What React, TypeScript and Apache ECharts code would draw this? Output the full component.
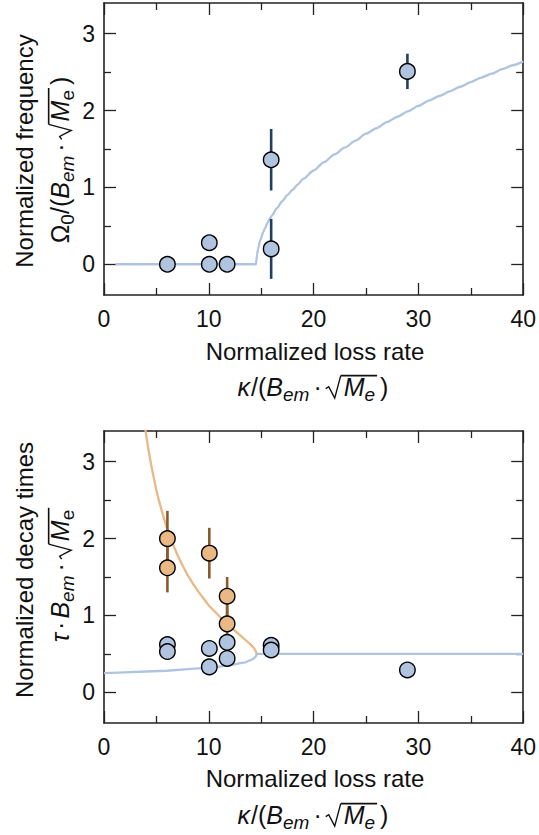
import React, { useEffect, useRef } from "react";
import * as echarts from "echarts";

// ---------- data ----------
const xTicks = [0, 10, 20, 30, 40];
const yMajorTicks = [0, 1, 2, 3];
const yMinorTicks = [0.5, 1.5, 2.5];

// top panel: normalized frequency
const freqKappa = [6.05, 10.05, 10.05, 11.75, 15.95, 15.95, 28.95];
const freqOmega = [0, 0, 0.28, 0, 1.36, 0.2, 2.51];
const freqErr = [0, 0, 0, 0, 0.4, 0.39, 0.23];

const freqCurveKappa = [1.1, 14.5, 14.55, 14.6, 14.7, 14.9, 15.2, 15.4, 15.6, 15.8, 16, 16.5, 17, 17.5, 18, 18.5, 19, 20, 21, 22, 23, 24, 25, 26, 27, 28, 29, 30, 31, 32, 33, 34, 35, 36, 37, 38, 39, 40];
const freqCurveOmega = [0, 0, 0.06, 0.12, 0.2, 0.31, 0.42, 0.48, 0.54, 0.59, 0.63, 0.73, 0.82, 0.9, 0.97, 1.04, 1.11, 1.22, 1.33, 1.43, 1.52, 1.61, 1.7, 1.77, 1.85, 1.92, 1.99, 2.06, 2.13, 2.19, 2.25, 2.31, 2.37, 2.43, 2.48, 2.54, 2.59, 2.64];

// bottom panel: normalized decay times
const blueKappa = [6.05, 6.05, 10.05, 10.05, 11.75, 11.75, 15.95, 15.95, 28.95];
const blueTau = [0.62, 0.53, 0.57, 0.33, 0.65, 0.44, 0.61, 0.55, 0.29];

const orangeKappa = [6.05, 6.05, 10.05, 11.75, 11.75];
const orangeTau = [2.0, 1.62, 1.81, 1.25, 0.89];
const orangeErr = [0.36, 0.32, 0.33, 0.25, 0.24];

const lowCurveKappa = [0, 2, 4, 6, 8, 10, 11, 12, 13, 13.5, 14, 14.3, 14.45, 14.53, 14.55, 40];
const lowCurveTau = [0.25, 0.26, 0.27, 0.28, 0.3, 0.32, 0.335, 0.35, 0.38, 0.39, 0.42, 0.44, 0.46, 0.48, 0.5, 0.5];

const upCurveKappa = [3.6, 3.8, 4, 4.25, 4.5, 4.75, 5, 5.25, 5.5, 5.75, 6, 6.5, 7, 7.5, 8, 8.5, 9, 9.5, 10, 10.5, 11, 11.5, 12, 12.5, 13, 13.5, 13.75, 14, 14.3, 14.45, 14.53, 14.55];
const upCurveTau = [3.77, 3.56, 3.37, 3.15, 2.96, 2.79, 2.63, 2.49, 2.37, 2.25, 2.14, 1.95, 1.79, 1.65, 1.52, 1.41, 1.31, 1.22, 1.13, 1.06, 0.99, 0.92, 0.86, 0.8, 0.74, 0.68, 0.65, 0.62, 0.575, 0.545, 0.52, 0.5];

// ---------- styles ----------
const FONT = '"Liberation Sans", Arial, Helvetica, sans-serif';
const FS = 24;
const MF = 25;
const MSUB = 19;
const TXT = "#111";
const FRAME = "#222";
const BLUE = "#b0c4e0";
const NAVY = "#223f60";
const ORANGE = "#e9b884";
const BROWN = "#8c5a2c";

const GRID_LEFT = 104;
const GRID_W = 423;
const GRID_H = 292;
const TOP1 = 3;
const TOP2 = 431;

type Seg = { t?: string; it?: boolean; sub?: boolean; gap?: number; rad?: boolean; ovEnd?: boolean };

function buildMath(segs: Seg[], F: number, Fs: number) {
  const canvas = document.createElement("canvas");
  const ctx = canvas.getContext("2d") as CanvasRenderingContext2D;
  const k = 0.3465;
  const base = k * F;
  const ovY = base - 20;
  let x = 0;
  let ovStart: number | null = null;
  let ovEnd: number | null = null;
  const children: any[] = [];
  for (const s of segs) {
    if (s.gap) {
      x += s.gap;
      continue;
    }
    if (s.rad) {
      children.push({
        type: "polyline",
        shape: { points: [[x, base - 7], [x + 3, base - 9], [x + 9, base + 2.5], [x + 15, ovY]] },
        style: { stroke: TXT, lineWidth: 1.4, fill: null },
      });
      ovStart = x + 15;
      x += 18;
      continue;
    }
    const size = s.sub ? Fs : F;
    const font = `${s.it ? "italic " : ""}${size}px ${FONT}`;
    ctx.font = font;
    const w = ctx.measureText(s.t || "").width;
    const bl = s.sub ? base + 5 : base;
    const mid = bl - k * size;
    children.push({
      type: "text",
      x,
      y: mid,
      style: {
        text: s.t,
        font,
        fill: TXT,
        textAlign: "left",
        align: "left",
        textVerticalAlign: "middle",
        verticalAlign: "middle",
      },
    });
    x += w;
    if (s.ovEnd) ovEnd = x + 2;
  }
  if (ovStart !== null && ovEnd !== null) {
    children.push({
      type: "line",
      shape: { x1: ovStart, y1: ovY, x2: ovEnd, y2: ovY },
      style: { stroke: TXT, lineWidth: 1.6 },
    });
  }
  return { children, width: x };
}

function mathLabel(segs: Seg[], cx: number, cy: number, rotate: boolean) {
  const m = buildMath(segs, MF, MSUB);
  return {
    type: "group",
    x: cx,
    y: cy,
    rotation: rotate ? Math.PI / 2 : 0,
    children: [{ type: "group", x: -m.width / 2, y: 0, children: m.children }],
  };
}

function plainLabel(text: string, cx: number, cy: number, rotate: boolean) {
  return {
    type: "text",
    x: cx,
    y: cy,
    rotation: rotate ? Math.PI / 2 : 0,
    style: {
      text,
      font: `${FS}px ${FONT}`,
      fill: TXT,
      textAlign: "center",
      align: "center",
      textVerticalAlign: "middle",
      verticalAlign: "middle",
    },
  };
}

const DOT = "\u2022";

const kappaSegs: Seg[] = [
  { t: "κ", it: true },
  { gap: 1 },
  { t: "/(" },
  { t: "B", it: true },
  { t: "em", it: true, sub: true },
  { gap: 4 },
  { t: "·" },
  { gap: 4 },
  { rad: true },
  { t: "M", it: true },
  { t: "e", it: true, sub: true, ovEnd: true },
  { gap: 5 },
  { t: ")" },
];

const omegaSegs: Seg[] = [
  { t: "Ω" },
  { t: "0", sub: true },
  { t: "/(" },
  { t: "B", it: true },
  { t: "em", it: true, sub: true },
  { gap: 4 },
  { t: "·" },
  { gap: 4 },
  { rad: true },
  { t: "M", it: true },
  { t: "e", sub: true, ovEnd: true },
  { gap: 5 },
  { t: ")" },
];

const tauSegs: Seg[] = [
  { t: "τ", it: true },
  { gap: 3 },
  { t: "·" },
  { gap: 3 },
  { t: "B", it: true },
  { t: "em", it: true, sub: true },
  { gap: 4 },
  { t: "·" },
  { gap: 4 },
  { rad: true },
  { t: "M", it: true },
  { t: "e", sub: true, ovEnd: true },
];

function xAxes(gridIndex: number) {
  const common = {
    gridIndex,
    type: "value",
    min: 0,
    max: 40,
    interval: 10,
    splitLine: { show: false },
    axisLine: { show: true, onZero: false, lineStyle: { color: FRAME, width: 1.6 } },
    axisTick: { show: true, inside: true, length: 12, lineStyle: { color: FRAME, width: 1.3 } },
    minorTick: { show: true, splitNumber: 2, length: 7, lineStyle: { color: FRAME, width: 1.3 } },
    minorSplitLine: { show: false },
  };
  return [
    {
      ...common,
      position: "bottom",
      axisLabel: {
        show: true,
        fontSize: FS - 1,
        fontFamily: FONT,
        color: TXT,
        margin: 12,
        customValues: xTicks,
      },
    },
    { ...common, position: "top", axisLabel: { show: false } },
  ];
}

function yAxes(gridIndex: number) {
  const common = {
    gridIndex,
    type: "value",
    min: -0.4,
    max: 3.4,
    splitLine: { show: false },
  };
  const major = (pos: string, labels: boolean) => ({
    ...common,
    position: pos,
    axisLine: { show: true, onZero: false, lineStyle: { color: FRAME, width: 1.6 } },
    axisTick: { show: true, inside: true, length: 12, customValues: yMajorTicks, lineStyle: { color: FRAME, width: 1.3 } },
    axisLabel: labels
      ? { show: true, fontSize: FS - 1, fontFamily: FONT, color: TXT, margin: 9, customValues: yMajorTicks }
      : { show: false },
  });
  const minor = (pos: string) => ({
    ...common,
    position: pos,
    axisLine: { show: false, onZero: false },
    axisTick: { show: true, inside: true, length: 7, customValues: yMinorTicks, lineStyle: { color: FRAME, width: 1.3 } },
    axisLabel: { show: false },
  });
  return [major("left", true), minor("left"), major("right", false), minor("right")];
}

function errorBarSeries(xIdx: number, yIdx: number, data: number[][], color: string) {
  return {
    type: "custom",
    xAxisIndex: xIdx,
    yAxisIndex: yIdx,
    z: 2,
    encode: { x: 0, y: [1, 2] },
    data,
    renderItem: (params: any, api: any) => {
      const p1 = api.coord([api.value(0), api.value(1)]);
      const p2 = api.coord([api.value(0), api.value(2)]);
      return {
        type: "line",
        shape: { x1: p1[0], y1: p1[1], x2: p2[0], y2: p2[1] },
        style: { stroke: color, lineWidth: 2.6 },
      };
    },
  };
}

export default function App() {
  const ref = useRef<HTMLDivElement>(null);
  useEffect(() => {
    if (!ref.current) return;
    const chart = echarts.init(ref.current, null, { renderer: "svg" });

    const freqPts = freqKappa.map((k, i) => [k, freqOmega[i]]);
    const freqBars = freqKappa
      .map((k, i) => [k, freqOmega[i] - freqErr[i], freqOmega[i] + freqErr[i]])
      .filter((_, i) => freqErr[i] > 0);
    const freqCurve = freqCurveKappa.map((k, i) => [k, freqCurveOmega[i]]);
    const bluePts = blueKappa.map((k, i) => [k, blueTau[i]]);
    const orangePts = orangeKappa.map((k, i) => [k, orangeTau[i]]);
    const orangeBars = orangeKappa.map((k, i) => [k, orangeTau[i] - orangeErr[i], orangeTau[i] + orangeErr[i]]);
    const lowCurve = lowCurveKappa.map((k, i) => [k, lowCurveTau[i]]);
    const upCurve = upCurveKappa.map((k, i) => [k, upCurveTau[i]]);

    const scatterStyle = (color: string) => ({
      color,
      borderColor: "#000",
      borderWidth: 1.4,
      opacity: 1,
    });

    chart.setOption({
      animation: false,
      backgroundColor: "#fff",
      grid: [
        { left: GRID_LEFT, top: TOP1, width: GRID_W, height: GRID_H },
        { left: GRID_LEFT, top: TOP2, width: GRID_W, height: GRID_H },
      ],
      xAxis: [...xAxes(0), ...xAxes(1)],
      yAxis: [...yAxes(0), ...yAxes(1)],
      series: [
        {
          type: "line",
          xAxisIndex: 0,
          yAxisIndex: 0,
          data: freqCurve,
          showSymbol: false,
          symbol: "none",
          smooth: 0.25,
          smoothMonotone: "x",
          lineStyle: { color: BLUE, width: 2.3 },
          z: 1,
        },
        errorBarSeries(0, 0, freqBars, NAVY),
        {
          type: "scatter",
          xAxisIndex: 0,
          yAxisIndex: 0,
          data: freqPts,
          symbol: "circle",
          symbolSize: 15.5,
          itemStyle: scatterStyle(BLUE),
          z: 3,
        },
        {
          type: "line",
          xAxisIndex: 2,
          yAxisIndex: 4,
          data: lowCurve,
          showSymbol: false,
          symbol: "none",
          lineStyle: { color: BLUE, width: 2.3 },
          z: 1,
        },
        {
          type: "line",
          xAxisIndex: 2,
          yAxisIndex: 4,
          data: upCurve,
          showSymbol: false,
          symbol: "none",
          lineStyle: { color: ORANGE, width: 2.3 },
          z: 1,
        },
        errorBarSeries(2, 4, orangeBars, BROWN),
        {
          type: "scatter",
          xAxisIndex: 2,
          yAxisIndex: 4,
          data: orangePts,
          symbol: "circle",
          symbolSize: 15.5,
          itemStyle: scatterStyle(ORANGE),
          z: 3,
        },
        {
          type: "scatter",
          xAxisIndex: 2,
          yAxisIndex: 4,
          data: bluePts,
          symbol: "circle",
          symbolSize: 15.5,
          itemStyle: scatterStyle(BLUE),
          z: 4,
        },
      ],
      graphic: [
        plainLabel("Normalized frequency", 24, 151, true),
        mathLabel(omegaSegs, 60, 160, true),
        plainLabel("Normalized decay times", 24, 570, true),
        mathLabel(tauSegs, 60, 576, true),
        plainLabel("Normalized loss rate", 315, 351, false),
        mathLabel(kappaSegs, 313, 387, false),
        plainLabel("Normalized loss rate", 315, 778, false),
        mathLabel(kappaSegs, 313, 815, false),
      ],
    });
    return () => chart.dispose();
  }, []);
  return (
    <div
      ref={ref}
      style={{ position: "absolute", left: 0, top: 0, width: 539, height: 835, background: "#fff" }}
    />
  );
}
